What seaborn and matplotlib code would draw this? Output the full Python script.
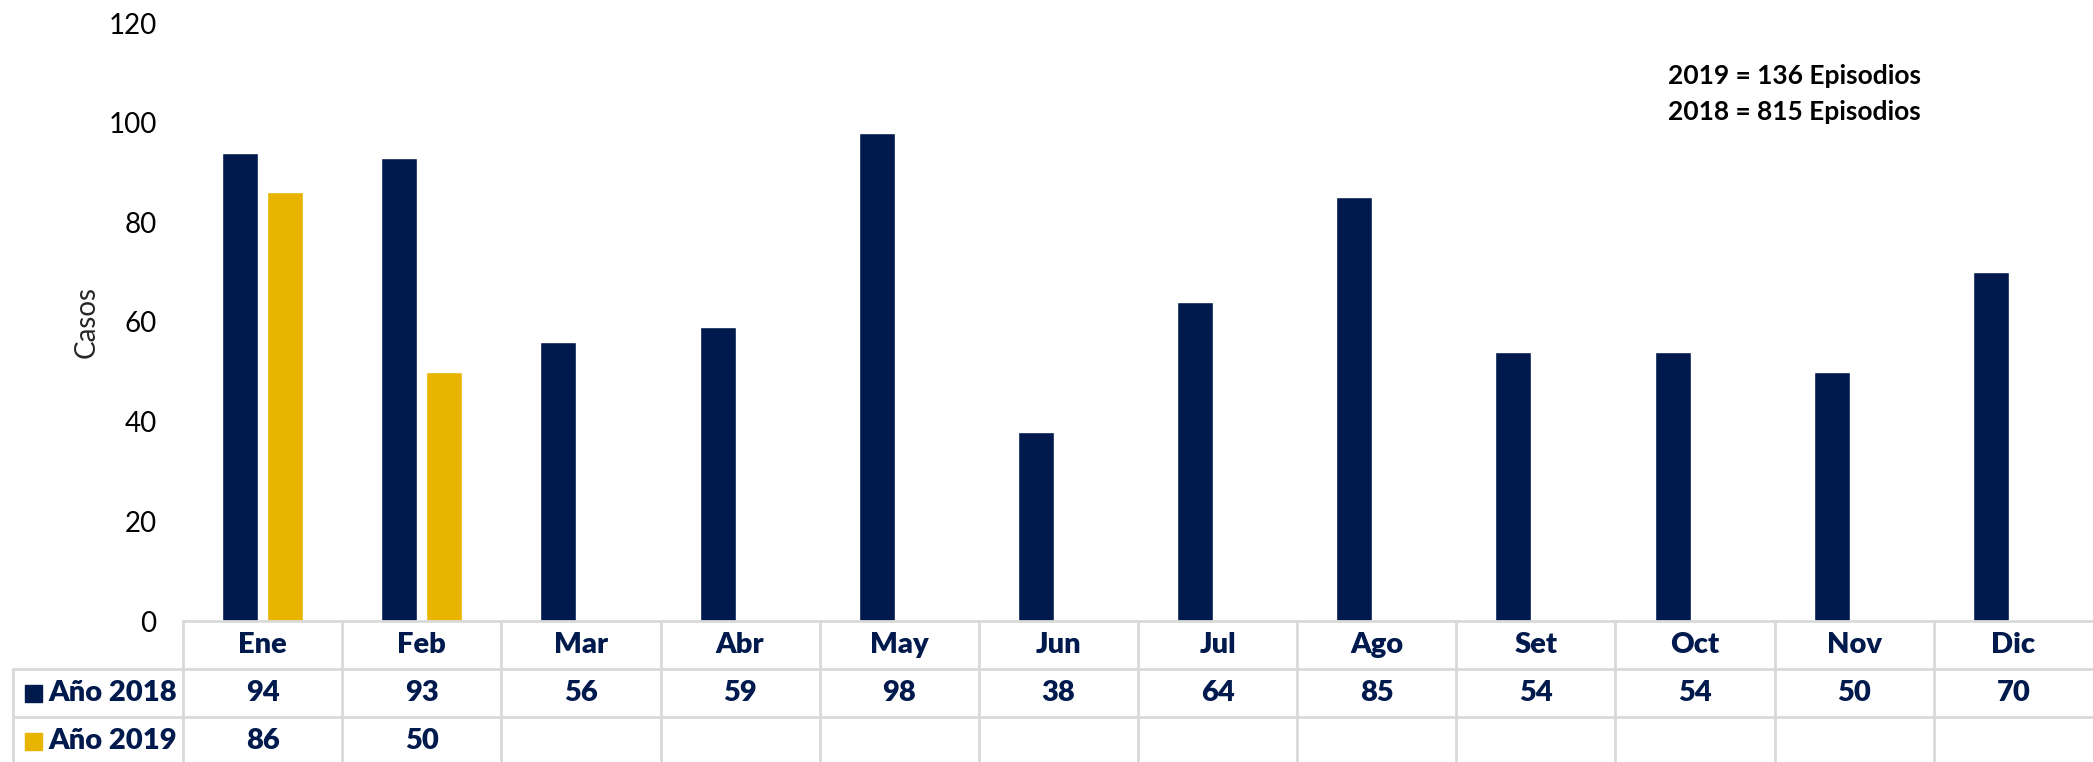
import pandas as pd
import numpy as np
import seaborn as sns
import matplotlib.pyplot as plt
from matplotlib.patches import Rectangle
from matplotlib.lines import Line2D
import matplotlib.transforms as mtransforms

meses = ['Ene', 'Feb', 'Mar', 'Abr', 'May', 'Jun', 'Jul', 'Ago', 'Set', 'Oct', 'Nov', 'Dic']
casos_2018 = [94, 93, 56, 59, 98, 38, 64, 85, 54, 54, 50, 70]
casos_2019 = [86, 50, None, None, None, None, None, None, None, None, None, None]
series = ['Año 2018', 'Año 2019']
anotaciones = ['2019 = 136 Episodios', '2018 = 815 Episodios']

navy = '#001A4D'
gold = '#E8B400'
grid_gray = '#D9D9D9'

df = pd.DataFrame({
    'Mes': meses * 2,
    'Casos': casos_2018 + casos_2019,
    'Año': [series[0]] * 12 + [series[1]] * 12,
})
df['Casos'] = pd.to_numeric(df['Casos'])

sns.set_style('white')
plt.rcParams['font.family'] = ['Lato', 'DejaVu Sans']

fig = plt.figure(figsize=(20.93, 7.62), dpi=100)
ax = fig.add_axes([183 / 2093, 1 - 621 / 762, 1 - 183 / 2093, (621 - 23) / 762])

sns.barplot(data=df, x='Mes', y='Casos', hue='Año', order=meses, hue_order=series,
            palette=[navy, gold], width=0.566, gap=0.2, saturation=1, ax=ax, legend=False)

ax.set_ylim(0, 120)
ax.set_xlim(-0.5, 11.5)
ax.set_yticks(range(0, 121, 20))
ax.tick_params(axis='y', labelsize=20, length=0, pad=19, colors='black')
ax.set_xticks([])
ax.set_xlabel('')
ax.set_ylabel('Casos', fontsize=20, labelpad=6)
for s in ax.spines.values():
    s.set_visible(False)

# table under the chart
trans = mtransforms.blended_transform_factory(ax.transData, ax.transAxes)
row_h = 48 / 598
left_x = (13 - 183) / (2093 - 183) * 12 - 0.5
lw = 2

def hline(y, x0):
    ax.add_line(Line2D([x0, 11.6], [y, y], transform=trans, color=grid_gray, lw=lw, clip_on=False))

def vline(x, y0, y1):
    ax.add_line(Line2D([x, x], [y0, y1], transform=trans, color=grid_gray, lw=lw, clip_on=False))

hline(0, -0.5)
hline(-row_h, left_x)
hline(-2 * row_h, left_x)
for i in range(12):
    vline(i - 0.5, 0, -3 * row_h)
vline(left_x, -row_h, -3 * row_h)

tkw = dict(transform=trans, ha='center', va='center', fontsize=21, fontweight='heavy', color=navy, clip_on=False)
for i, m in enumerate(meses):
    ax.text(i, -0.5 * row_h, m, **tkw)
    ax.text(i, -1.5 * row_h, str(casos_2018[i]), **tkw)
    if casos_2019[i] is not None:
        ax.text(i, -2.5 * row_h, str(casos_2019[i]), **tkw)

for j, (name, col) in enumerate(zip(series, [navy, gold])):
    yc = 1 - (621 + (1.5 + j) * 48) / 762
    fig.patches.append(Rectangle((25 / 2093, yc - 8.5 / 762), 17 / 2093, 17 / 762,
                                 transform=fig.transFigure, color=col))
    fig.text(48 / 2093, yc, name, ha='left', va='center',
             fontsize=21, fontweight='heavy', color=navy)

for k, t in enumerate(anotaciones):
    fig.text(1668 / 2093, 1 - (76 + 36 * k) / 762, t, ha='left', va='center',
             fontsize=19, fontweight='bold', color='black')

plt.savefig('out.png', dpi=100)
